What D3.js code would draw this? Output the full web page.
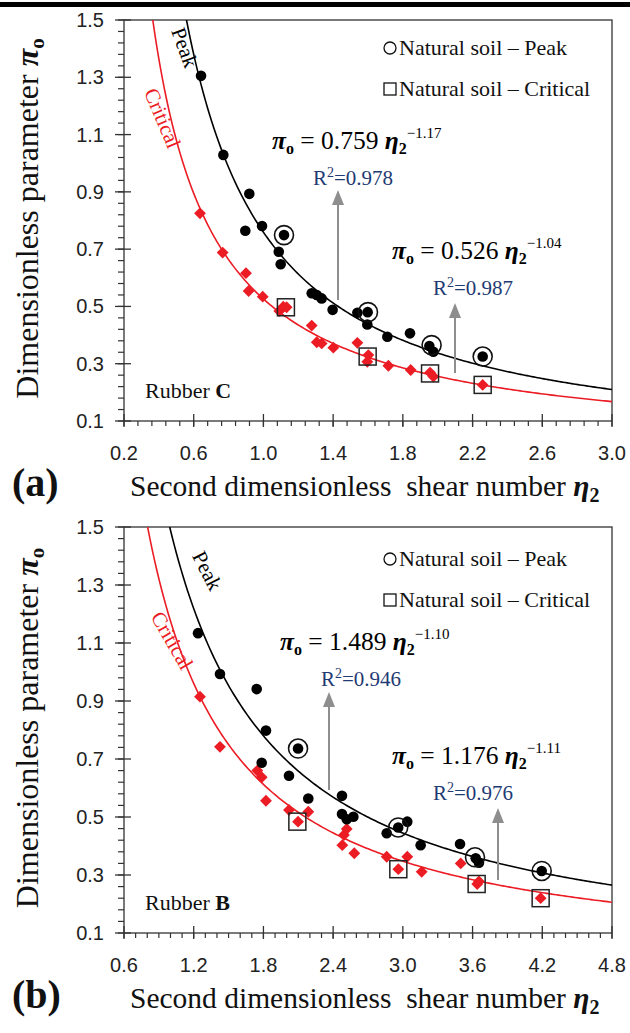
<!DOCTYPE html>
<html>
<head>
<meta charset="utf-8">
<script src="https://cdn.jsdelivr.net/npm/d3@7"></script>
<style>
  html, body { margin: 0; padding: 0; background: #fff; }
  svg { display: block; }
</style>
</head>
<body>
<svg id="chart" width="630" height="1033"></svg>
<script>
// ---- Rubber C (panel a) ----
const aPeakEta  = [0.642, 0.770, 0.896, 0.919, 0.992, 1.088, 1.099, 1.118, 1.277, 1.306, 1.334, 1.397, 1.539, 1.598, 1.596, 1.711, 1.841, 1.952, 1.975, 2.258];
const aPeakPi   = [1.305, 1.029, 0.764, 0.893, 0.781, 0.691, 0.647, 0.749, 0.546, 0.540, 0.528, 0.488, 0.478, 0.480, 0.437, 0.394, 0.406, 0.362, 0.342, 0.325];
const aCritEta  = [0.636, 0.766, 0.900, 0.915, 0.996, 1.091, 1.114, 1.133, 1.277, 1.306, 1.334, 1.401, 1.539, 1.602, 1.596, 1.717, 1.845, 1.956, 1.975, 2.258];
const aCritPi   = [0.825, 0.688, 0.616, 0.554, 0.534, 0.484, 0.499, 0.497, 0.433, 0.375, 0.371, 0.356, 0.373, 0.330, 0.307, 0.293, 0.278, 0.269, 0.255, 0.226];
const aSoilPeakEta = [1.118, 1.600, 1.965, 2.258];
const aSoilPeakPi  = [0.749, 0.480, 0.365, 0.325];
const aSoilCritEta = [1.129, 1.598, 1.956, 2.258];
const aSoilCritPi  = [0.497, 0.325, 0.266, 0.226];
const aPeakFit = { coef: 0.759, exp: -1.17, r2: "0.978" };
const aCritFit = { coef: 0.526, exp: -1.04, r2: "0.987" };
const aXTicks = [0.2, 0.6, 1.0, 1.4, 1.8, 2.2, 2.6, 3.0];

// ---- Rubber B (panel b) ----
const bPeakEta  = [1.237, 1.426, 1.742, 1.822, 1.785, 2.020, 2.098, 2.186, 2.476, 2.476, 2.517, 2.574, 2.861, 2.960, 3.038, 3.153, 3.492, 3.627, 3.655, 4.195];
const bPeakPi   = [1.134, 0.993, 0.941, 0.798, 0.687, 0.642, 0.736, 0.564, 0.573, 0.510, 0.492, 0.501, 0.444, 0.464, 0.484, 0.403, 0.407, 0.358, 0.342, 0.314];
const bCritEta  = [1.254, 1.426, 1.747, 1.785, 1.822, 2.020, 2.098, 2.186, 2.479, 2.493, 2.517, 2.582, 2.861, 2.961, 3.038, 3.162, 3.498, 3.640, 3.655, 4.186];
const bCritPi   = [0.915, 0.742, 0.660, 0.637, 0.556, 0.524, 0.484, 0.518, 0.403, 0.438, 0.459, 0.375, 0.363, 0.320, 0.363, 0.311, 0.340, 0.269, 0.278, 0.220];
const bSoilPeakEta = [2.098, 2.960, 3.621, 4.195];
const bSoilPeakPi  = [0.736, 0.464, 0.361, 0.314];
const bSoilCritEta = [2.092, 2.961, 3.635, 4.186];
const bSoilCritPi  = [0.484, 0.320, 0.269, 0.220];
const bPeakFit = { coef: 1.489, exp: -1.10, r2: "0.946" };
const bCritFit = { coef: 1.176, exp: -1.11, r2: "0.976" };
const bXTicks = [0.6, 1.2, 1.8, 2.4, 3.0, 3.6, 4.2, 4.8];

const yTicks = [0.1, 0.3, 0.5, 0.7, 0.9, 1.1, 1.3, 1.5];
const legendLabels = ["Natural soil \u2013 Peak", "Natural soil \u2013 Critical"];

const RED = "#ec1c24";
const NAVY = "#1f3b73";
const GREY = "#8e8e8e";
const SERIF = "'Liberation Serif', 'Times New Roman', serif";
const SANS = "'Liberation Sans', Arial, sans-serif";

const svg = d3.select("#chart");

// thick rule across the top of the figure
svg.append("rect").attr("x", 0).attr("y", 2).attr("width", 630).attr("height", 5).attr("fill", "#000");

const zip = (xs, ys) => xs.map((x, i) => [x, ys[i]]);

function equation(g, x, y, coef, exp) {
  const t = g.append("text").attr("x", x).attr("y", y)
    .attr("font-family", SERIF).attr("font-size", 25.5).attr("fill", "#000");
  t.append("tspan").attr("font-weight", "bold").attr("font-style", "italic").text("\u03c0");
  t.append("tspan").attr("font-weight", "bold").attr("font-size", 16).attr("dy", 5).text("o");
  t.append("tspan").attr("dy", -5).text(" = " + coef.toFixed(3) + " ");
  t.append("tspan").attr("font-weight", "bold").attr("font-style", "italic").text("\u03b7");
  t.append("tspan").attr("font-weight", "bold").attr("font-size", 16).attr("dy", 5).text("2");
  t.append("tspan").attr("font-size", 15).attr("dy", -16).text("\u2212" + Math.abs(exp).toFixed(2));
}

function rSquared(g, x, y, r2) {
  const t = g.append("text").attr("x", x).attr("y", y)
    .attr("font-family", SERIF).attr("font-size", 21).attr("fill", NAVY);
  t.append("tspan").text("R");
  t.append("tspan").attr("font-size", 14).attr("dy", -8).text("2");
  t.append("tspan").attr("dy", 8).text("=" + r2);
}

function arrow(g, x, y0, y1) {
  g.append("line").attr("x1", x).attr("x2", x).attr("y1", y0).attr("y2", y1 + 12)
    .attr("stroke", GREY).attr("stroke-width", 2);
  g.append("path").attr("d", `M${x},${y1} L${x - 6},${y1 + 15} L${x + 6},${y1 + 15} Z`).attr("fill", GREY);
}

function panel(o) {
  const left = 124, right = 612;
  const x = d3.scaleLinear().domain(o.xDomain).range([left, right]);
  const y = d3.scaleLinear().domain([0.1, 1.5]).range([o.bottom, o.top]);
  const g = svg.append("g");
  const clipId = "clip-" + o.key;
  svg.append("clipPath").attr("id", clipId).append("rect")
    .attr("x", left).attr("y", o.top).attr("width", right - left).attr("height", o.bottom - o.top);

  // frame
  g.append("rect").attr("x", left).attr("y", o.top).attr("width", right - left).attr("height", o.bottom - o.top)
    .attr("fill", "none").attr("stroke", "#333").attr("stroke-width", 1.3);

  // x axis ticks
  const xMinor = d3.range(o.xDomain[0], o.xDomain[1] + 1e-9, o.xMinorStep).map(v => +v.toFixed(3));
  g.append("g").selectAll("line").data(xMinor).join("line")
    .attr("x1", d => x(d)).attr("x2", d => x(d)).attr("y1", o.bottom).attr("y2", o.bottom + 5)
    .attr("stroke", "#333").attr("stroke-width", 1.2);
  g.append("g").selectAll("line").data(o.xTicks).join("line")
    .attr("x1", d => x(d)).attr("x2", d => x(d)).attr("y1", o.bottom - 7).attr("y2", o.bottom + 6)
    .attr("stroke", "#333").attr("stroke-width", 1.3);
  g.append("g").selectAll("text").data(o.xTicks).join("text")
    .attr("x", d => x(d)).attr("y", o.bottom + 39).attr("text-anchor", "middle")
    .attr("font-family", SANS).attr("font-size", 20).attr("fill", "#222")
    .text(d3.format(".1f"));

  // y axis ticks
  const yMinor = d3.range(0.1, 1.5 + 1e-9, 0.04).map(v => +v.toFixed(3));
  g.append("g").selectAll("line").data(yMinor).join("line")
    .attr("x1", left - 6).attr("x2", left).attr("y1", d => y(d)).attr("y2", d => y(d))
    .attr("stroke", "#333").attr("stroke-width", 1.2);
  g.append("g").selectAll("line").data(yTicks).join("line")
    .attr("x1", left - 9).attr("x2", left + 7).attr("y1", d => y(d)).attr("y2", d => y(d))
    .attr("stroke", "#333").attr("stroke-width", 1.3);
  g.append("g").selectAll("text").data(yTicks).join("text")
    .attr("x", left - 20).attr("y", d => y(d) + 7).attr("text-anchor", "end")
    .attr("font-family", SANS).attr("font-size", 20).attr("fill", "#222")
    .text(d3.format(".1f"));

  // axis titles
  const xt = g.append("text").attr("x", 130).attr("y", o.bottom + 75)
    .attr("font-family", SERIF).attr("font-size", 29.5).attr("fill", "#111");
  xt.append("tspan").text("Second dimensionless\u00a0 shear number ");
  xt.append("tspan").attr("font-weight", "bold").attr("font-style", "italic").text("\u03b7");
  xt.append("tspan").attr("font-weight", "bold").attr("font-size", 20).attr("dy", 6).text("2");

  const yt = g.append("text")
    .attr("transform", `translate(38,${(o.top + o.bottom) / 2 - 2}) rotate(-90)`)
    .attr("text-anchor", "middle").attr("font-family", SERIF).attr("font-size", 32).attr("fill", "#111");
  yt.append("tspan").text("Dimensionless parameter ");
  yt.append("tspan").attr("font-weight", "bold").attr("font-style", "italic").text("\u03c0");
  yt.append("tspan").attr("font-weight", "bold").attr("font-size", 21).attr("dy", 6).text("o");

  g.append("text").attr("x", 12).attr("y", o.bottom + 75)
    .attr("font-family", SERIF).attr("font-size", 40).attr("font-weight", "bold").attr("fill", "#111")
    .text(o.tag);

  // fitted power-law curves
  const curve = (fit) => {
    const x0 = Math.pow(1.5 / fit.coef, 1 / fit.exp);
    const xs = d3.range(0, 201).map(i => x0 + (o.xDomain[1] - x0) * i / 200);
    return d3.line().x(d => x(d)).y(d => y(fit.coef * Math.pow(d, fit.exp)))(xs);
  };
  const plot = g.append("g").attr("clip-path", `url(#${clipId})`);
  plot.append("path").attr("d", curve(o.critFit)).attr("fill", "none").attr("stroke", RED).attr("stroke-width", 1.6);
  plot.append("path").attr("d", curve(o.peakFit)).attr("fill", "none").attr("stroke", "#000").attr("stroke-width", 1.6);

  // rubber-mixture data
  const diamond = d3.symbol(d3.symbolSquare, 70)();
  plot.append("g").selectAll("path").data(o.crit).join("path")
    .attr("d", diamond).attr("transform", d => `translate(${x(d[0])},${y(d[1])}) rotate(45)`)
    .attr("fill", RED);
  plot.append("g").selectAll("circle").data(o.peak).join("circle")
    .attr("cx", d => x(d[0])).attr("cy", d => y(d[1])).attr("r", 5.3).attr("fill", "#000");

  // natural soil reference points
  plot.append("g").selectAll("circle").data(o.soilPeak).join("circle")
    .attr("cx", d => x(d[0])).attr("cy", d => y(d[1])).attr("r", 9.5)
    .attr("fill", "none").attr("stroke", "#111").attr("stroke-width", 1.6);
  plot.append("g").selectAll("rect").data(o.soilCrit).join("rect")
    .attr("x", d => x(d[0]) - 8.5).attr("y", d => y(d[1]) - 8.5).attr("width", 17).attr("height", 17)
    .attr("fill", "none").attr("stroke", "#222").attr("stroke-width", 1.5);

  // curve labels
  g.append("text").attr("transform", `translate(${o.peakLabel[0]},${o.peakLabel[1]}) rotate(${o.peakLabel[2]})`)
    .attr("text-anchor", "middle").attr("font-family", SERIF).attr("font-size", 21).attr("fill", "#000").text("Peak");
  g.append("text").attr("transform", `translate(${o.critLabel[0]},${o.critLabel[1]}) rotate(${o.critLabel[2]})`)
    .attr("text-anchor", "middle").attr("font-family", SERIF).attr("font-size", 21).attr("fill", RED).text("Critical");

  // legend
  const lg = g.append("g").attr("transform", `translate(0,${o.legendDy})`);
  lg.append("circle").attr("cx", 390).attr("cy", o.top + 28).attr("r", 6)
    .attr("fill", "none").attr("stroke", "#111").attr("stroke-width", 1.3);
  lg.append("rect").attr("x", 384).attr("y", o.top + 63).attr("width", 12).attr("height", 12)
    .attr("fill", "none").attr("stroke", "#111").attr("stroke-width", 1.3);
  lg.selectAll("text").data(legendLabels).join("text")
    .attr("x", 399).attr("y", (d, i) => o.top + 35 + i * 41)
    .attr("font-family", SERIF).attr("font-size", 22).attr("fill", "#111").text(d => d);

  // annotations
  arrow(g, o.arrow1[0], o.arrow1[1], o.arrow1[2]);
  arrow(g, o.arrow2[0], o.arrow2[1], o.arrow2[2]);
  equation(g, o.eq1[0], o.eq1[1], o.peakFit.coef, o.peakFit.exp);
  rSquared(g, o.eq1[0] + 41, o.eq1[1] + 36, o.peakFit.r2);
  equation(g, o.eq2[0], o.eq2[1], o.critFit.coef, o.critFit.exp);
  rSquared(g, o.eq2[0] + 41, o.eq2[1] + 36, o.critFit.r2);

  const rb = g.append("text").attr("x", 145).attr("y", o.bottom - 23)
    .attr("font-family", SERIF).attr("font-size", 22).attr("fill", "#111");
  rb.append("tspan").text("Rubber ");
  rb.append("tspan").attr("font-weight", "bold").text(o.rubber);
}

panel({
  key: "a", tag: "(a)", rubber: "C", top: 20, bottom: 421, legendDy: 0,
  xDomain: [0.2, 3.0], xTicks: aXTicks, xMinorStep: 0.08,
  peak: zip(aPeakEta, aPeakPi), crit: zip(aCritEta, aCritPi),
  soilPeak: zip(aSoilPeakEta, aSoilPeakPi), soilCrit: zip(aSoilCritEta, aSoilCritPi),
  peakFit: aPeakFit, critFit: aCritFit,
  peakLabel: [178, 50, 70], critLabel: [156, 121, 67],
  arrow1: [338, 300, 190], arrow2: [455, 373, 303],
  eq1: [272, 149], eq2: [392, 259]
});

panel({
  key: "b", tag: "(b)", rubber: "B", top: 527, bottom: 933, legendDy: 4,
  xDomain: [0.6, 4.8], xTicks: bXTicks, xMinorStep: 0.1,
  peak: zip(bPeakEta, bPeakPi), crit: zip(bCritEta, bCritPi),
  soilPeak: zip(bSoilPeakEta, bSoilPeakPi), soilCrit: zip(bSoilCritEta, bSoilCritPi),
  peakLabel: [201, 574, 63], critLabel: [166, 644, 60],
  peakFit: bPeakFit, critFit: bCritFit,
  arrow1: [329, 790, 692], arrow2: [498, 880, 808],
  eq1: [280, 650], eq2: [392, 764]
});
</script>
</body>
</html>
